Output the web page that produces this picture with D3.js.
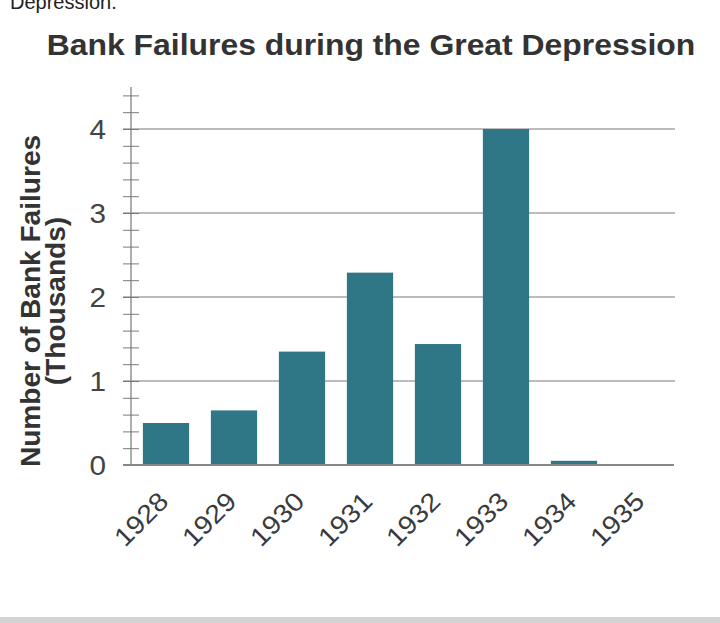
<!DOCTYPE html>
<html>
<head>
<meta charset="utf-8">
<script src="https://cdn.jsdelivr.net/npm/d3@7"></script>
<style>
  html, body { margin: 0; padding: 0; background: #fff; }
  svg { display: block; font-family: "Liberation Sans", Arial, sans-serif; }
</style>
</head>
<body>
<svg id="chart" width="720" height="623"></svg>
<script>
const categories = ["1928", "1929", "1930", "1931", "1932", "1933", "1934", "1935"];
const failures = [0.50, 0.65, 1.35, 2.29, 1.44, 4.00, 0.05, 0.0];
const yTicks = [0, 1, 2, 3, 4];
const title = "Bank Failures during the Great Depression";
const yLabelLines = ["Number of Bank Failures", "(Thousands)"];

const svg = d3.select("#chart");

// page chrome: cut-off line from previous text and bottom gray strip
svg.append("text").attr("x", 10).attr("y", 9)
  .attr("font-size", 20).attr("fill", "#222").text("Depression.");
svg.append("rect").attr("x", 0).attr("y", 617).attr("width", 720).attr("height", 6)
  .attr("fill", "#d4d4d4");

const x = d3.scaleBand().domain(categories).range([132, 676]).paddingInner(0.32).paddingOuter(0.16);
const y = d3.scaleLinear().domain([0, 4.5]).range([465, 87]);

// title
svg.append("text").attr("x", 371).attr("y", 55).attr("text-anchor", "middle")
  .attr("font-size", 29).attr("font-weight", "bold").attr("fill", "#333")
  .attr("transform", "translate(371,0) scale(1.1,1) translate(-371,0)")
  .text(title);

// grid lines
svg.append("g").selectAll("line").data(yTicks.filter(d => d > 0)).join("line")
  .attr("x1", 123).attr("x2", 675)
  .attr("y1", d => y(d)).attr("y2", d => y(d))
  .attr("stroke", "#7a7a7a").attr("stroke-width", 1.2);

// minor ticks via axis
const minor = d3.range(0, 4.41, 0.2);
const axisG = svg.append("g").attr("transform", "translate(131,0)")
  .call(d3.axisLeft(y).tickValues(minor).tickSize(8).tickFormat(""));
axisG.select(".domain").remove();
axisG.selectAll(".tick line").attr("stroke", "#7a7a7a").attr("x2", 8).attr("x1", -8);
svg.append("line").attr("x1", 131).attr("x2", 131).attr("y1", 87).attr("y2", 465)
  .attr("stroke", "#777").attr("stroke-width", 1.2);

// y tick labels
svg.append("g").selectAll("text").data(yTicks).join("text")
  .attr("transform", d => `translate(106,${y(d)}) scale(1.1,1)`)
  .attr("dy", "0.36em")
  .attr("text-anchor", "end").attr("font-size", 27).attr("fill", "#444")
  .text(d => d);

// bars
svg.append("g").selectAll("rect").data(categories.map((c, i) => ({ c, v: failures[i] })))
  .join("rect")
  .attr("x", d => x(d.c)).attr("width", x.bandwidth())
  .attr("y", d => y(d.v)).attr("height", d => y(0) - y(d.v))
  .attr("fill", "#2f7686");

// baseline
svg.append("line").attr("x1", 123).attr("x2", 674).attr("y1", y(0)).attr("y2", y(0))
  .attr("stroke", "#888").attr("stroke-width", 2);

// x labels
svg.append("g").selectAll("text").data(categories).join("text")
  .attr("transform", d => `translate(${x(d) + x.bandwidth() / 2 + 4},503) rotate(-45) scale(1.1,1)`)
  .attr("text-anchor", "end").attr("font-size", 26).attr("fill", "#3a3a3a")
  .text(d => d);

// y label
const yl = svg.append("text").attr("transform", "translate(40,301) rotate(-90) scale(1.04,1)")
  .attr("text-anchor", "middle").attr("font-size", 27).attr("font-weight", "bold").attr("fill", "#333");
yl.append("tspan").attr("x", 0).attr("y", 0).text(yLabelLines[0]);
yl.append("tspan").attr("x", 0).attr("y", 25).text(yLabelLines[1]);
</script>
</body>
</html>
